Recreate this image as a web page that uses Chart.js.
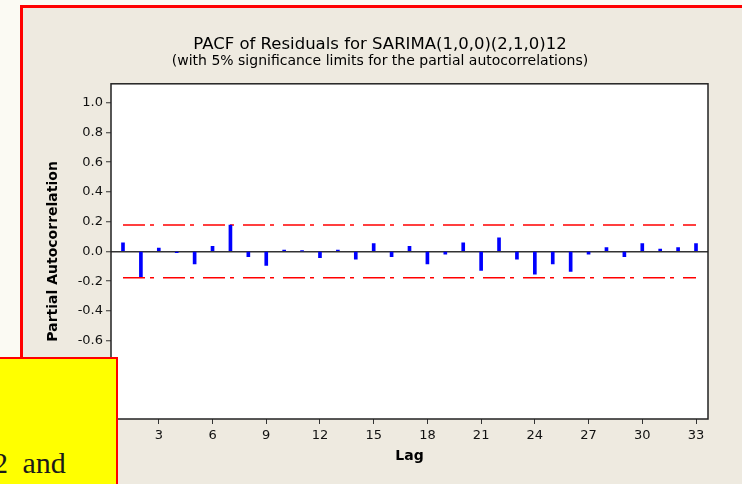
<!DOCTYPE html>
<html>
<head>
<meta charset="utf-8">
<script src="https://cdn.jsdelivr.net/npm/chart.js@4.4.1/dist/chart.umd.min.js"></script>
<style>
  html, body { margin: 0; padding: 0; }
  body { width: 742px; height: 484px; overflow: hidden; position: relative; background: #FBFAF3; }
  #frame { position: absolute; left: 20px; top: 5px; width: 800px; height: 600px; box-sizing: border-box;
           border: 3px solid #FF0000; background: #EEEAE0; z-index: 0; }
  #chartBox { position: absolute; left: 0; top: 0; width: 742px; height: 484px; z-index: 1; }
  #note { position: absolute; left: -3px; top: 357px; width: 121px; height: 200px; box-sizing: border-box;
          border: 2px solid #FF0000; background: #FFFF00; z-index: 2; overflow: hidden; }
  #noteText { position: absolute; left: -6px; top: 89px; font: 30px "Liberation Serif", serif; line-height: 30px;
              color: #1a1a1a; word-spacing: 7px; white-space: nowrap; }
</style>
</head>
<body>
<div id="frame"></div>
<div id="chartBox"><canvas id="pacfChart" width="742" height="484"></canvas></div>
<div id="note"><div id="noteText">2 and</div></div>
<script>
// Lags and partial autocorrelations
const lags = [1, 2, 3, 4, 5, 6, 7, 8, 9, 10, 11, 12, 13, 14, 15, 16, 17,
              18, 19, 20, 21, 22, 23, 24, 25, 26, 27, 28, 29, 30, 31, 32, 33];
const pacf = [0.058, -0.170, 0.022, -0.009, -0.085, 0.034, 0.177, -0.036, -0.094, 0.009, 0.004,
              -0.043, 0.009, -0.052, 0.052, -0.036, 0.034, -0.085, -0.018, 0.058, -0.128, 0.092,
              -0.052, -0.153, -0.085, -0.135, -0.018, 0.025, -0.036, 0.052, 0.016, 0.025, 0.052];

// 5% significance limits
const limitLags = [1, 33];
const upperLimit = [0.177, 0.177];
const lowerLimit = [-0.177, -0.177];

// Tick labels
const xTicks = [3, 6, 9, 12, 15, 18, 21, 24, 27, 30, 33];
const yTicks = [-1.0, -0.8, -0.6, -0.4, -0.2, 0.0, 0.2, 0.4, 0.6, 0.8, 1.0];

const titleText = "PACF of Residuals for SARIMA(1,0,0)(2,1,0)12";
const subtitleText = "(with 5% significance limits for the partial autocorrelations)";

const FONT = "'DejaVu Sans', Verdana, sans-serif";

// white plot area with a dark frame
const plotFrame = {
  id: "plotFrame",
  beforeDatasetsDraw(chart) {
    const { ctx, chartArea: a } = chart;
    ctx.save();
    ctx.strokeStyle = "#222";
    ctx.lineWidth = 1.5;
    ctx.strokeRect(a.left, a.top, a.right - a.left, a.bottom - a.top);
    ctx.restore();
  },
  beforeDraw(chart) {
    const { ctx, chartArea: a } = chart;
    ctx.save();
    ctx.fillStyle = "#FFFFFF";
    ctx.fillRect(a.left, a.top, a.right - a.left, a.bottom - a.top);
    ctx.restore();
  }
};

const ctx = document.getElementById("pacfChart").getContext("2d");

new Chart(ctx, {
  type: "bar",
  data: {
    datasets: [
      {
        type: "bar",
        data: lags.map((l, i) => ({ x: l, y: pacf[i] })),
        backgroundColor: "#0000FF",
        barThickness: 3,
        grouped: false
      },
      {
        type: "line",
        data: limitLags.map((l, i) => ({ x: l, y: upperLimit[i] })),
        borderColor: "#FF0000",
        borderWidth: 1.5,
        borderDash: [22, 5, 4, 9],
        pointRadius: 0,
        fill: false
      },
      {
        type: "line",
        data: limitLags.map((l, i) => ({ x: l, y: lowerLimit[i] })),
        borderColor: "#FF0000",
        borderWidth: 1.5,
        borderDash: [22, 5, 4, 9],
        pointRadius: 0,
        fill: false
      }
    ]
  },
  options: {
    responsive: false,
    animation: false,
    layout: { padding: { left: 18, top: 0, right: 0, bottom: 0 } },
    plugins: {
      legend: { display: false },
      tooltip: { enabled: false },
      title: {
        display: true,
        text: titleText,
        color: "#000",
        font: { family: FONT, size: 16.5, weight: "normal", lineHeight: 1 },
        padding: { top: 36, bottom: 0 }
      },
      subtitle: {
        display: true,
        text: subtitleText,
        color: "#000",
        font: { family: FONT, size: 14, weight: "normal", lineHeight: 1 },
        padding: { top: 2, bottom: 15.3 }
      }
    },
    scales: {
      x: {
        type: "linear",
        position: "bottom",
        min: 0.33,
        max: 33.67,
        offset: false,
        afterBuildTicks: s => { s.ticks = xTicks.map(v => ({ value: v })); },
        afterFit: s => { s.height = 65; },
        grid: { drawOnChartArea: false, offset: false, tickLength: 5, tickColor: "#333", tickWidth: 1 },
        border: { display: false },
        ticks: { color: "#111", font: { family: FONT, size: 13 }, padding: 4, maxRotation: 0 },
        title: {
          display: true,
          text: "Lag",
          color: "#000",
          font: { family: FONT, size: 14, weight: "bold" },
          padding: { top: 0, bottom: 19.6 }
        }
      },
      y: {
        type: "linear",
        position: "left",
        min: -1.127,
        max: 1.127,
        afterBuildTicks: s => { s.ticks = yTicks.map(v => ({ value: v })); },
        afterFit: s => { s.width = 93; },
        grid: {
          color: c => (c.tick && c.tick.value === 0 ? "#333" : "rgba(0,0,0,0)"),
          lineWidth: 1.5,
          tickColor: "#333",
          tickLength: 5,
          tickWidth: 1
        },
        border: { display: false },
        ticks: { color: "#111", font: { family: FONT, size: 13 }, padding: 3, callback: v => v.toFixed(1) },
        title: {
          display: true,
          text: "Partial Autocorrelation",
          color: "#000",
          font: { family: FONT, size: 14, weight: "bold" },
          padding: { top: 27, bottom: 0 }
        }
      },
      y2: {
        type: "linear",
        position: "right",
        display: true,
        afterFit: s => { s.width = 34; },
        grid: { display: false },
        ticks: { display: false },
        border: { display: false }
      }
    }
  },
  plugins: [plotFrame]
});
</script>
</body>
</html>
